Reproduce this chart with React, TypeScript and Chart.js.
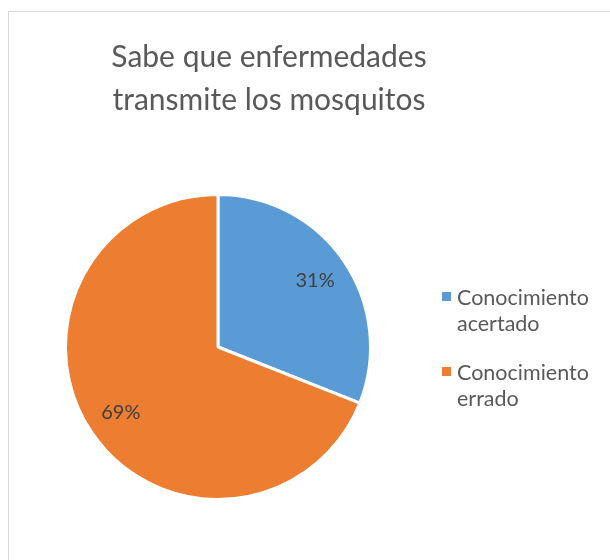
import React, { useEffect, useRef } from "react";
import { Chart, registerables } from "chart.js";

Chart.register(...registerables);

const titleLines = ["Sabe que enfermedades", "transmite los mosquitos"];
const categories = ["Conocimiento acertado", "Conocimiento errado"];
const values = [31, 69];
const colors = ["#5B9BD5", "#ED7D31"];

const FONT = "Lato, 'Open Sans', sans-serif";

const overlayPlugin = {
  id: "overlay",
  afterDraw(chart: any) {
    const ctx = chart.ctx;
    ctx.save();
    // title
    ctx.fillStyle = "#595959";
    ctx.font = `30px ${FONT}`;
    ctx.textAlign = "center";
    ctx.textBaseline = "alphabetic";
    titleLines.forEach((t, i) => ctx.fillText(t, 269, 67 + i * 43));

    // data labels
    const meta = chart.getDatasetMeta(0);
    const total = values.reduce((a, b) => a + b, 0);
    ctx.fillStyle = "#404040";
    ctx.font = `20px ${FONT}`;
    ctx.textBaseline = "middle";
    meta.data.forEach((arc: any, i: number) => {
      const p = arc.getProps(["x", "y", "startAngle", "endAngle", "outerRadius"], true);
      const mid = (p.startAngle + p.endAngle) / 2;
      const d = p.outerRadius * 0.77;
      const pct = Math.round((values[i] / total) * 100) + "%";
      ctx.fillText(pct, p.x + Math.cos(mid) * d, p.y + Math.sin(mid) * d);
    });

    // legend
    ctx.textAlign = "left";
    ctx.textBaseline = "alphabetic";
    ctx.font = `21.5px ${FONT}`;
    categories.forEach((c, i) => {
      const baseY = 305 + i * 75;
      ctx.fillStyle = colors[i];
      ctx.fillRect(442, baseY - 13, 9, 9);
      ctx.fillStyle = "#595959";
      const sp = c.indexOf(" ");
      const lines = [c.slice(0, sp), c.slice(sp + 1)];
      lines.forEach((l, j) => ctx.fillText(l, 457, baseY + j * 26));
    });
    ctx.restore();
  },
};

export default function App() {
  const ref = useRef<HTMLCanvasElement>(null);
  useEffect(() => {
    document.body.style.margin = "0";
    const chart = new Chart(ref.current!, {
      type: "pie",
      data: {
        labels: categories,
        datasets: [
          {
            data: values,
            backgroundColor: colors,
            borderColor: "#FFFFFF",
            borderWidth: 3,
          },
        ],
      },
      options: {
        responsive: false,
        animation: false,
        layout: { padding: { left: 64, right: 238, top: 193, bottom: 59 } },
        plugins: {
          legend: { display: false },
          title: { display: false },
          tooltip: { enabled: false },
        },
      },
      plugins: [overlayPlugin],
    });
    return () => chart.destroy();
  }, []);
  return (
    <div style={{ position: "fixed", left: 0, top: 0, width: 610, height: 560, overflow: "hidden", background: "#fff" }}>
      <div
        style={{
          position: "absolute",
          left: 8,
          top: 11,
          width: 640,
          height: 640,
          border: "1px solid #D9D9D9",
          boxSizing: "border-box",
        }}
      />
      <canvas ref={ref} width={610} height={560} style={{ position: "absolute", left: 0, top: 0, width: 610, height: 560 }} />
    </div>
  );
}
